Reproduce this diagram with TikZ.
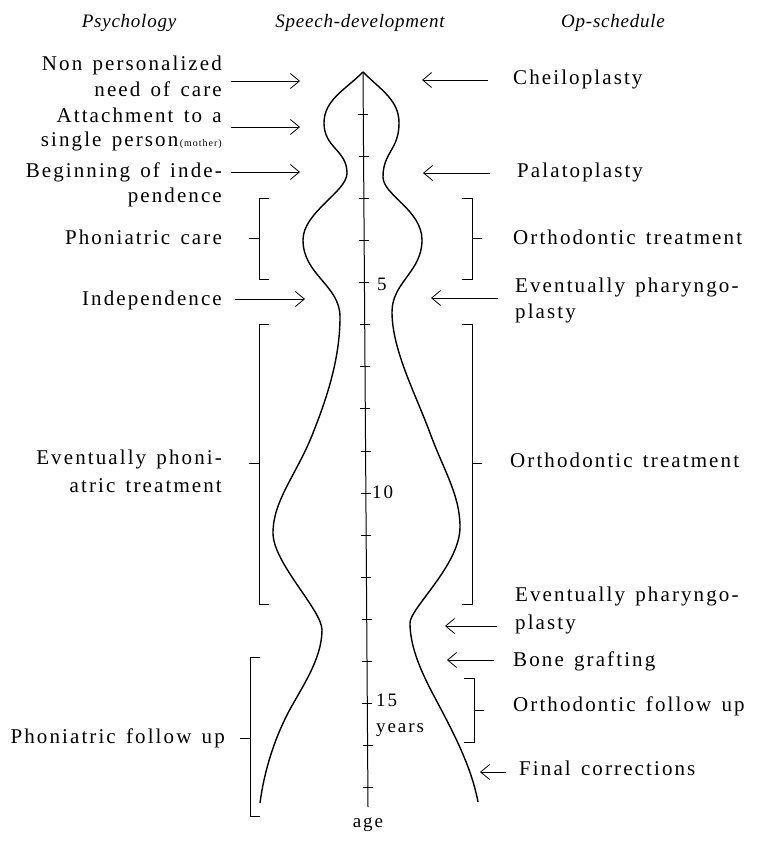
\documentclass[tikz,border=0pt]{standalone}
\usepackage{fontspec}
\setmainfont{Liberation Serif}
\newfontfamily\bodyfont[LetterSpace=10,WordSpace=1.4]{Liberation Serif}
\newfontfamily\headfont[LetterSpace=4]{Liberation Serif}
\usetikzlibrary{arrows.meta}
\newcommand{\mybrkL}[4]{\draw[brk] (#1+10,#2) -- (#1,#2) -- (#1,#3) -- (#1+10,#3); \draw[brk] (#1,#4) -- (#1-10,#4);}
\newcommand{\mybrkR}[4]{\draw[brk] (#1-10,#2) -- (#1,#2) -- (#1,#3) -- (#1-10,#3); \draw[brk] (#1,#4) -- (#1+10,#4);}
\begin{document}
\begin{tikzpicture}[x=1bp,y=-1bp,
  txt/.style={font=\bodyfont\fontsize{21bp}{23bp}\selectfont, inner sep=0pt},
  lt/.style={txt, anchor=base east},
  rt/.style={txt, anchor=base west},
  num/.style={font=\bodyfont\fontsize{19bp}{21bp}\selectfont, inner sep=0pt, anchor=base west},
  hd/.style={font=\headfont\itshape\fontsize{19bp}{22bp}\selectfont, inner sep=0pt, anchor=base},
  arr/.style={-{Straight Barb[length=9bp,width=15bp]}, line width=0.8bp},
  brk/.style={line width=0.8bp},
  tk/.style={line width=0.8bp},
  axisline/.style={line width=1bp},
  curve/.style={line width=1.4bp}]
\useasboundingbox (0,0) rectangle (759,842);
\fill[white] (0,0) rectangle (759,842);

% headers
\node[hd] (hpsy) at (129,27) {Psychology};
\node[hd] (hspe) at (360,27) {Speech-development};
\node[hd] (hop) at (613,27) {Op-schedule};

% axis
\coordinate (top) at (363,72);
\coordinate (bot) at (368,807);
\draw[axisline] (top) -- (bot);
\foreach \n in {1,...,17} {
  \pgfmathsetmacro\yy{72+42.1*\n}
  \pgfmathsetmacro\xx{363+5*42.1*\n/735}
  \draw[tk] (\xx-5,\yy) -- (\xx+5,\yy);
}
\node[num] (n5) at (377,290) {5};
\node[num] (n10) at (372,498) {10};
\node[num] (n15) at (376,706) {15};
\node[num] (nyears) at (376,732) {years};
\node[num, anchor=base] (nage) at (368,827) {age};

% outline, left
\draw[curve] (top)
  .. controls (345,90) and (324,100) .. (324,123)
  .. controls (324,148) and (347,150) .. (347,173)
  .. controls (347,192) and (303,212) .. (303,240)
  .. controls (303,275) and (340,285) .. (340,317)
  .. controls (340,360) and (326,400) .. (313,433)
  .. controls (297,474) and (273,500) .. (273,533)
  .. controls (273,563) and (322,610) .. (322,630)
  .. controls (322,660) and (300,690) .. (288,713)
  .. controls (274,740) and (264,772) .. (260,803);
% outline, right
\draw[curve] (top)
  .. controls (381,90) and (399,100) .. (399,123)
  .. controls (399,150) and (383,152) .. (383,177)
  .. controls (383,195) and (422,210) .. (422,240)
  .. controls (422,272) and (392,282) .. (392,312)
  .. controls (392,350) and (416,395) .. (430,433)
  .. controls (444,471) and (460,495) .. (460,527)
  .. controls (460,565) and (410,608) .. (410,623)
  .. controls (410,655) and (430,688) .. (443,713)
  .. controls (457,740) and (472,770) .. (478,802);

% left texts
\node[lt] (l1) at (222,70) {Non personalized};
\node[lt] (l2) at (222,96) {need of care};
\node[lt] (l3) at (222,122) {Attachment to a};
\node[lt] (l4) at (222,146) {single person\hspace{1.5bp}{\fontsize{10bp}{11bp}\selectfont(mother)}};
\node[lt] (l5) at (222,177) {Beginning of inde-};
\node[lt] (l6) at (222,202) {pendence};
\node[lt] (l7) at (222,244) {Phoniatric care};
\node[lt] (l8) at (222,305) {Independence};
\node[lt] (l9) at (222,464) {Eventually phoni-};
\node[lt] (l10) at (222,492) {atric treatment};
\node[lt] (l11) at (225,743) {Phoniatric follow up};

% right texts
\node[rt] (r1) at (513,84) {Cheiloplasty};
\node[rt] (r2) at (517,177) {Palatoplasty};
\node[rt] (r3) at (513,244) {Orthodontic treatment};
\node[rt] (r4) at (515,292) {Eventually pharyngo-};
\node[rt] (r5) at (515,318) {plasty};
\node[rt] (r6) at (510,467) {Orthodontic treatment};
\node[rt] (r7) at (515,601) {Eventually pharyngo-};
\node[rt] (r8) at (515,629) {plasty};
\node[rt] (r9) at (513,666) {Bone grafting};
\node[rt] (r10) at (513,711) {Orthodontic follow up};
\node[rt] (r11) at (519,775) {Final corrections};

% arrows
\coordinate (a1s) at (231,81);  \coordinate (a1e) at (300,81);
\coordinate (a2s) at (231,127); \coordinate (a2e) at (300,127);
\coordinate (a3s) at (231,172); \coordinate (a3e) at (300,172);
\coordinate (a4s) at (235,299); \coordinate (a4e) at (305,299);
\coordinate (b1s) at (488,80);  \coordinate (b1e) at (422,80);
\coordinate (b2s) at (490,173); \coordinate (b2e) at (423,173);
\coordinate (b3s) at (498,298); \coordinate (b3e) at (431,298);
\coordinate (b4s) at (497,626); \coordinate (b4e) at (445,626);
\coordinate (b5s) at (494,660); \coordinate (b5e) at (447,660);
\coordinate (b6s) at (506,772); \coordinate (b6e) at (480,772);
\foreach \p in {a1,a2,a3,a4,b1,b2,b3,b4,b5,b6} {\draw[arr] (\p s) -- (\p e);}

% brackets
\mybrkL{259}{198}{279}{238}
\mybrkR{472}{198}{279}{238}
\mybrkL{259}{324}{604}{463}
\mybrkR{472}{324}{604}{463}
\mybrkL{250}{657}{816}{738}
\mybrkR{474}{678}{742}{710}
\end{tikzpicture}
\end{document}
